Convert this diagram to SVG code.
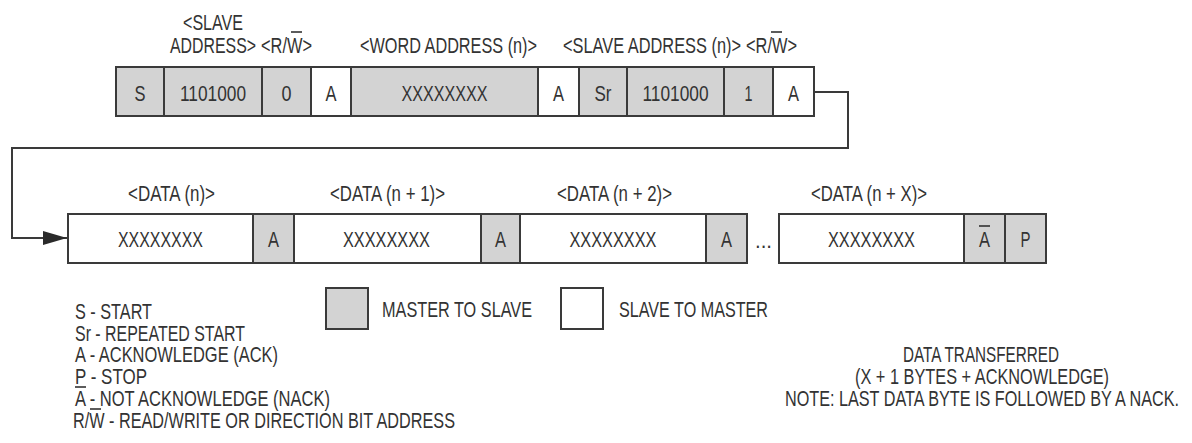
<svg xmlns="http://www.w3.org/2000/svg" width="1192" height="443" viewBox="0 0 1192 443">
  <style>
    text { font-family: "Liberation Sans Narrow", "Liberation Sans", Arial, sans-serif; font-size: 21.5px; fill: #333; }
    .m { fill: #d3d3d3; stroke: #3a3a3a; stroke-width: 2; }
    .s { fill: #ffffff; stroke: #3a3a3a; stroke-width: 2; }
    .c { text-anchor: middle; }
    .e { text-anchor: end; }
    .bar { stroke: #333; stroke-width: 1.6; }
    .wire { fill: none; stroke: #3a3a3a; stroke-width: 2; }
  </style>
  <defs>
    <marker id="arrow" markerUnits="userSpaceOnUse" markerWidth="26" markerHeight="16" refX="25" refY="8" orient="auto">
      <path d="M1,1 L25,8 L1,15 Z" fill="#2a2a2a"/>
    </marker>
  </defs>
  <rect width="1192" height="443" fill="#ffffff"/>

  <!-- field labels, address phase -->
  <g id="labels-top">
    <text x="183" y="30" textLength="60" lengthAdjust="spacingAndGlyphs">&lt;SLAVE</text>
    <text class="e" x="256" y="53" textLength="86" lengthAdjust="spacingAndGlyphs">ADDRESS&gt;</text>
    <text x="261" y="53" textLength="51" lengthAdjust="spacingAndGlyphs">&lt;R/W&gt;</text>
    <line class="bar" x1="291" y1="32" x2="302" y2="32"/>
    <text class="c" x="448.5" y="53" textLength="177" lengthAdjust="spacingAndGlyphs">&lt;WORD ADDRESS (n)&gt;</text>
    <text x="563" y="53" textLength="178" lengthAdjust="spacingAndGlyphs">&lt;SLAVE ADDRESS (n)&gt;</text>
    <text class="e" x="797" y="53" textLength="51" lengthAdjust="spacingAndGlyphs">&lt;R/W&gt;</text>
    <line class="bar" x1="771" y1="32" x2="782" y2="32"/>
  </g>

  <!-- address phase frame -->
  <g id="start"><rect class="m" x="116" y="67" width="48" height="49"/><text class="c" x="140" y="101" textLength="11" lengthAdjust="spacingAndGlyphs">S</text></g>
  <g id="slave-addr-w"><rect class="m" x="164" y="67" width="98" height="49"/><text class="c" x="213" y="101" textLength="66" lengthAdjust="spacingAndGlyphs">1101000</text></g>
  <g id="rw-0"><rect class="m" x="262" y="67" width="49" height="49"/><text class="c" x="286.5" y="101" textLength="10" lengthAdjust="spacingAndGlyphs">0</text></g>
  <g id="ack-1"><rect class="s" x="311" y="67" width="40" height="49"/><text class="c" x="331" y="101" textLength="11" lengthAdjust="spacingAndGlyphs">A</text></g>
  <g id="word-addr"><rect class="m" x="351" y="67" width="187" height="49"/><text class="c" x="444.5" y="101" textLength="86" lengthAdjust="spacingAndGlyphs">XXXXXXXX</text></g>
  <g id="ack-2"><rect class="s" x="538" y="67" width="41" height="49"/><text class="c" x="558.5" y="101" textLength="11" lengthAdjust="spacingAndGlyphs">A</text></g>
  <g id="rep-start"><rect class="m" x="579" y="67" width="48" height="49"/><text class="c" x="603" y="101" textLength="17" lengthAdjust="spacingAndGlyphs">Sr</text></g>
  <g id="slave-addr-r"><rect class="m" x="627" y="67" width="97" height="49"/><text class="c" x="675.5" y="101" textLength="66" lengthAdjust="spacingAndGlyphs">1101000</text></g>
  <g id="rw-1"><rect class="m" x="724" y="67" width="49" height="49"/><text class="c" x="748.5" y="101" textLength="8" lengthAdjust="spacingAndGlyphs">1</text></g>
  <g id="ack-3"><rect class="s" x="773" y="67" width="41" height="49"/><text class="c" x="793.5" y="101" textLength="11" lengthAdjust="spacingAndGlyphs">A</text></g>

  <!-- wrap-around connector -->
  <g id="connectors">
    <path class="wire" d="M814,92 H848 V148 H12 V238 H67" marker-end="url(#arrow)"/>
  </g>

  <!-- field labels, data phase -->
  <g id="labels-data">
    <text x="128" y="201" textLength="87" lengthAdjust="spacingAndGlyphs">&lt;DATA (n)&gt;</text>
    <text x="330" y="201" textLength="115" lengthAdjust="spacingAndGlyphs">&lt;DATA (n + 1)&gt;</text>
    <text x="557" y="201" textLength="115" lengthAdjust="spacingAndGlyphs">&lt;DATA (n + 2)&gt;</text>
    <text x="811" y="201" textLength="116" lengthAdjust="spacingAndGlyphs">&lt;DATA (n + X)&gt;</text>
  </g>

  <!-- data phase frame -->
  <g id="data-n"><rect class="s" x="68" y="214" width="185" height="49"/><text class="c" x="160.5" y="247" textLength="85" lengthAdjust="spacingAndGlyphs">XXXXXXXX</text></g>
  <g id="ack-d1"><rect class="m" x="253" y="214" width="41" height="49"/><text class="c" x="273.5" y="247" textLength="11" lengthAdjust="spacingAndGlyphs">A</text></g>
  <g id="data-n1"><rect class="s" x="294" y="214" width="187" height="49"/><text class="c" x="386.5" y="247" textLength="87" lengthAdjust="spacingAndGlyphs">XXXXXXXX</text></g>
  <g id="ack-d2"><rect class="m" x="481" y="214" width="39" height="49"/><text class="c" x="500.5" y="247" textLength="11" lengthAdjust="spacingAndGlyphs">A</text></g>
  <g id="data-n2"><rect class="s" x="520" y="214" width="186" height="49"/><text class="c" x="613" y="247" textLength="87" lengthAdjust="spacingAndGlyphs">XXXXXXXX</text></g>
  <g id="ack-d3"><rect class="m" x="706" y="214" width="41" height="49"/><text class="c" x="726.5" y="247" textLength="11" lengthAdjust="spacingAndGlyphs">A</text></g>
  <g id="ellipsis"><text x="755" y="248" textLength="17" lengthAdjust="spacingAndGlyphs">...</text></g>
  <g id="data-nx"><rect class="s" x="779" y="214" width="185" height="49"/><text class="c" x="871.5" y="247" textLength="87" lengthAdjust="spacingAndGlyphs">XXXXXXXX</text></g>
  <g id="nack"><rect class="m" x="964" y="214" width="41" height="49"/><text class="c" x="984.5" y="247" textLength="11" lengthAdjust="spacingAndGlyphs">A</text><line class="bar" x1="979" y1="226" x2="990" y2="226"/></g>
  <g id="stop"><rect class="m" x="1005" y="214" width="41" height="49"/><text class="c" x="1025.5" y="247" textLength="10" lengthAdjust="spacingAndGlyphs">P</text></g>

  <!-- direction key -->
  <g id="key-master">
    <rect class="m" x="326" y="288" width="42" height="41"/>
    <text x="382" y="317" textLength="150" lengthAdjust="spacingAndGlyphs">MASTER TO SLAVE</text>
  </g>
  <g id="key-slave">
    <rect class="s" x="561" y="288" width="42" height="41"/>
    <text x="619" y="317" textLength="149" lengthAdjust="spacingAndGlyphs">SLAVE TO MASTER</text>
  </g>

  <!-- symbol glossary -->
  <g id="glossary">
    <text x="75" y="319" textLength="77" lengthAdjust="spacingAndGlyphs">S - START</text>
    <text x="75" y="341" textLength="170" lengthAdjust="spacingAndGlyphs">Sr - REPEATED START</text>
    <text x="75" y="362" textLength="203" lengthAdjust="spacingAndGlyphs">A - ACKNOWLEDGE (ACK)</text>
    <text x="75" y="384" textLength="72" lengthAdjust="spacingAndGlyphs">P - STOP</text>
    <text x="75" y="406" textLength="255" lengthAdjust="spacingAndGlyphs">A - NOT ACKNOWLEDGE (NACK)</text>
    <line class="bar" x1="75" y1="387" x2="86" y2="387"/>
    <text x="73" y="428" textLength="382" lengthAdjust="spacingAndGlyphs">R/W - READ/WRITE OR DIRECTION BIT ADDRESS</text>
    <line class="bar" x1="90" y1="409" x2="101" y2="409"/>
  </g>

  <!-- transfer note -->
  <g id="note">
    <text class="e" x="1059" y="362" textLength="156" lengthAdjust="spacingAndGlyphs">DATA TRANSFERRED</text>
    <text class="e" x="1109" y="384" textLength="254" lengthAdjust="spacingAndGlyphs">(X + 1 BYTES + ACKNOWLEDGE)</text>
    <text class="e" x="1179" y="406" textLength="394" lengthAdjust="spacingAndGlyphs">NOTE: LAST DATA BYTE IS FOLLOWED BY A NACK.</text>
  </g>
</svg>
